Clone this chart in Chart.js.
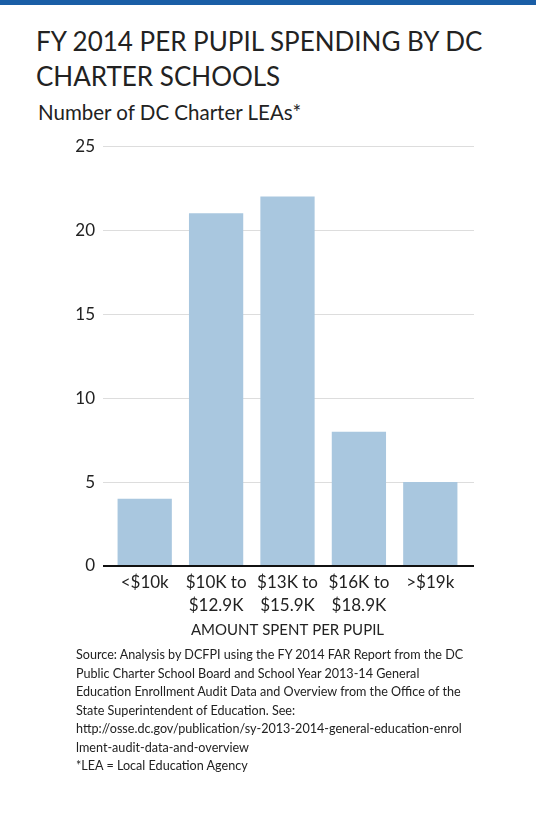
<!DOCTYPE html>
<html><head><meta charset="utf-8">
<script src="https://cdn.jsdelivr.net/npm/chart.js@4"></script>
<style>
html,body{margin:0;padding:0;background:#fff;width:536px;height:826px;overflow:hidden;font-family:"Lato","Open Sans",sans-serif;color:#222}
#bar{position:absolute;left:0;top:0;width:536px;height:5px;background:#1a5ea6}
#title{position:absolute;left:36px;top:24px;font-size:26px;line-height:35px;color:#222;white-space:nowrap}
#sub{position:absolute;left:38px;top:100px;font-size:20.5px;color:#222;white-space:nowrap}
#src{position:absolute;left:76px;top:646px;font-size:12.6px;line-height:18.5px;color:#222;white-space:nowrap}
#wrap{position:absolute;left:0;top:130px;width:536px;height:520px}
</style></head><body>
<div id="bar"></div>
<div id="title">FY 2014 PER PUPIL SPENDING BY DC<br>CHARTER SCHOOLS</div>
<div id="sub">Number of DC Charter LEAs*</div>
<div id="wrap"><canvas id="c" width="536" height="520"></canvas></div>
<div id="src">Source: Analysis by DCFPI using the FY 2014 FAR Report from the DC<br>Public Charter School Board and School Year 2013-14 General<br>Education Enrollment Audit Data and Overview from the Office of the<br>State Superintendent of Education. See:<br>http://osse.dc.gov/publication/sy-2013-2014-general-education-enrol<br>lment-audit-data-and-overview<br>*LEA = Local Education Agency</div>
<script>
const categories = [["<$10k"], ["$10K to", "$12.9K"], ["$13K to", "$15.9K"], ["$16K to", "$18.9K"], [">$19k"]];
const counts = [4, 21, 22, 8, 5];
const yTicks = [0, 5, 10, 15, 20, 25];
const xTitle = "AMOUNT SPENT PER PUPIL";

const gridPlugin = {
  id: 'extGrid',
  beforeDatasetsDraw(chart) {
    const {ctx, chartArea, scales} = chart;
    ctx.save();
    yTicks.forEach(v => {
      if (v === 0) return;
      const y = Math.round(scales.y.getPixelForValue(v)) + 0.5;
      ctx.strokeStyle = '#dddddd';
      ctx.lineWidth = 1;
      ctx.beginPath();
      ctx.moveTo(chartArea.left - 6, y);
      ctx.lineTo(chartArea.right + 8, y);
      ctx.stroke();
    });
    ctx.restore();
  },
  afterDatasetsDraw(chart) {
    const {ctx, chartArea, scales} = chart;
    const y = scales.y.getPixelForValue(0);
    ctx.save();
    ctx.strokeStyle = '#111';
    ctx.lineWidth = 1.8;
    ctx.beginPath();
    ctx.moveTo(chartArea.left - 6, y);
    ctx.lineTo(chartArea.right + 8, y);
    ctx.stroke();
    ctx.restore();
  }
};

new Chart(document.getElementById('c'), {
  type: 'bar',
  data: {
    labels: categories,
    datasets: [{ data: counts, backgroundColor: '#a9c7df', borderWidth: 0, barPercentage: 0.76, categoryPercentage: 1 }]
  },
  options: {
    responsive: false,
    animation: false,
    events: [],
    layout: { padding: { top: 13, right: 70, bottom: 7, left: 0 } },
    plugins: { legend: { display: false }, tooltip: { enabled: false }, title: { display: false } },
    scales: {
      x: {
        grid: { display: false, drawTicks: false },
        border: { display: false },
        ticks: { color: '#222', font: { family: 'Lato', size: 17, lineHeight: 1.35 }, padding: 5, maxRotation: 0, autoSkip: false },
        title: { display: true, text: xTitle, color: '#222', font: { family: 'Lato', size: 15 }, padding: 4 },
        afterFit(s) { s.height = 77; }
      },
      y: {
        min: 0, max: 25,
        afterBuildTicks(s) { s.ticks = yTicks.map(v => ({ value: v })); },
        grid: { display: false },
        border: { display: false },
        ticks: { color: '#222', font: { family: 'Lato', size: 17 }, padding: 6 },
        afterFit(s) { s.width = 109; }
      }
    }
  },
  plugins: [gridPlugin]
});
</script>
</body></html>
